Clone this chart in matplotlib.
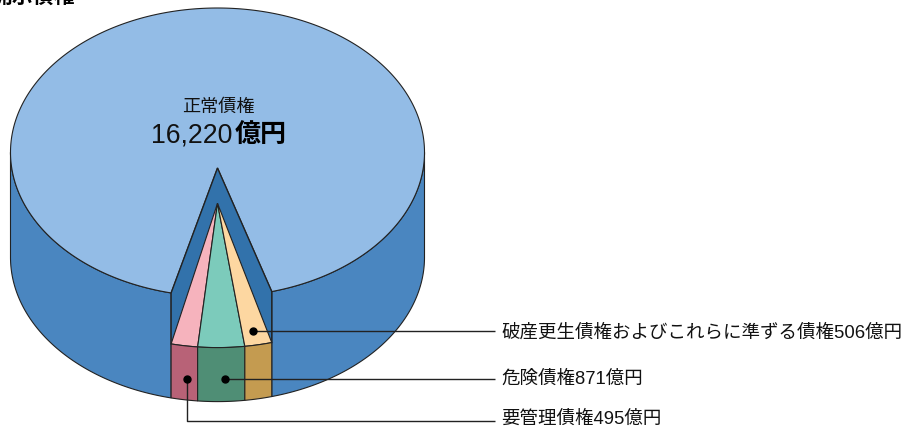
import numpy as np
import matplotlib
matplotlib.use("Agg")
import matplotlib.pyplot as plt
from matplotlib.patches import Polygon

plt.rcParams['font.family'] = ['Liberation Sans', 'Noto Sans CJK JP', 'DejaVu Sans']

# Data
main_label = "正常債権"
main_value = "16,220"
unit = "億円"
title = "開示債権"
wedge_names = ["要管理債権", "危険債権", "破産更生債権およびこれらに準ずる債権"]
wedge_values = [495, 871, 506]

W, H = 906, 428
fig = plt.figure(figsize=(W / 100, H / 100), dpi=100)
ax = fig.add_axes([0, 0, 1, 1])
ax.set_xlim(0, W)
ax.set_ylim(H, 0)
ax.axis("off")

# Pie projection
CX, CY, RX, RY = 217.5, 152.3, 207.0, 144.3
DROP = 51.0      # lowered level of the pulled-down wedge
DEPTH = 105.0    # full height of the cylinder
NOTCH_Y = 168.0
START = -12.95   # left edge of wedge, degrees from front
SPAN = 28.15     # drawn angular width of wedge

EDGE = "#222222"
TOP, SIDE, INNER = "#93bce6", "#4a86c0", "#3272ab"
FACE_TOP = ["#f6b3bd", "#7ccbbb", "#fdd7a1"]
FACE_FRONT = ["#b86277", "#4f8e75", "#c49b50"]


def rim(deg, dy=0.0):
    t = np.radians(np.asarray(deg, dtype=float))
    return np.column_stack([CX + RX * np.sin(t), CY + dy + RY * np.cos(t)])


def arc(a, b, dy=0.0, n=160):
    return rim(np.linspace(a, b, n), dy)


bounds = START + SPAN * np.concatenate([[0], np.cumsum(wedge_values)]) / sum(wedge_values)
END = bounds[-1]

# Outer walls
ax.add_patch(Polygon(np.vstack([arc(-90, START), arc(START, -90, DEPTH)]),
                     fc=SIDE, ec=EDGE, lw=0.8, zorder=1))
ax.add_patch(Polygon(np.vstack([arc(END, 90), arc(90, END, DEPTH)]),
                     fc=SIDE, ec=EDGE, lw=0.8, zorder=1))

# Top face with notch
top = np.vstack([arc(END, 360 + START, n=500), [[CX, NOTCH_Y]]])
ax.add_patch(Polygon(top, fc=TOP, ec=EDGE, lw=0.8, zorder=2))

# Inner walls of the notch
inner = np.vstack([[[CX, NOTCH_Y]], rim([END]), arc(END, START, DROP), rim([START])])
ax.add_patch(Polygon(inner, fc=INNER, ec=EDGE, lw=1.0, zorder=3))

# Wedge slices
for i in range(len(wedge_values)):
    a, b = bounds[i], bounds[i + 1]
    ax.add_patch(Polygon(np.vstack([[[CX, CY + DROP]], arc(a, b, DROP, 30)]),
                         fc=FACE_TOP[i], ec=EDGE, lw=0.8, zorder=4))
    ax.add_patch(Polygon(np.vstack([arc(a, b, DROP, 30), arc(b, a, DEPTH, 30)]),
                         fc=FACE_FRONT[i], ec=EDGE, lw=0.8, zorder=4))

# Leaders
TXT_X, LINE_X = 501.5, 495
leaders = [
    ([253, LINE_X], [330.5, 330.5], (253, 330.5), 332.5, 2),
    ([225, LINE_X], [379.3, 379.3], (225, 379.3), 379.5, 1),
    ([187, 187, LINE_X], [379.3, 420.5, 420.5], (187, 379.3), 419.5, 0),
]
for xs, ys, dot, ty, idx in leaders:
    ax.plot(xs, ys, color="#222222", lw=1.0, zorder=5, solid_capstyle="butt")
    ax.plot(*dot, "o", color="black", ms=5, zorder=6)
    ax.text(TXT_X, ty, f"{wedge_names[idx]}{wedge_values[idx]}{unit}", fontsize=13.3,
            va="center", ha="left", color="#111111")

# Main label
ax.text(218.5, 107.5, main_label, fontsize=13.1, ha="center", va="center", color="#111111")
ax.text(232.5, 136, main_value, fontsize=19.2, ha="right", va="center", color="#111111")
ax.text(235, 136, unit, fontsize=18.7, fontweight="bold", ha="left", va="center", color="black")

# Title, cut by the top edge
ax.text(75, -3.5, title, fontsize=15, fontweight="bold", ha="right", va="center", color="black")

fig.savefig("out.png", dpi=100)
